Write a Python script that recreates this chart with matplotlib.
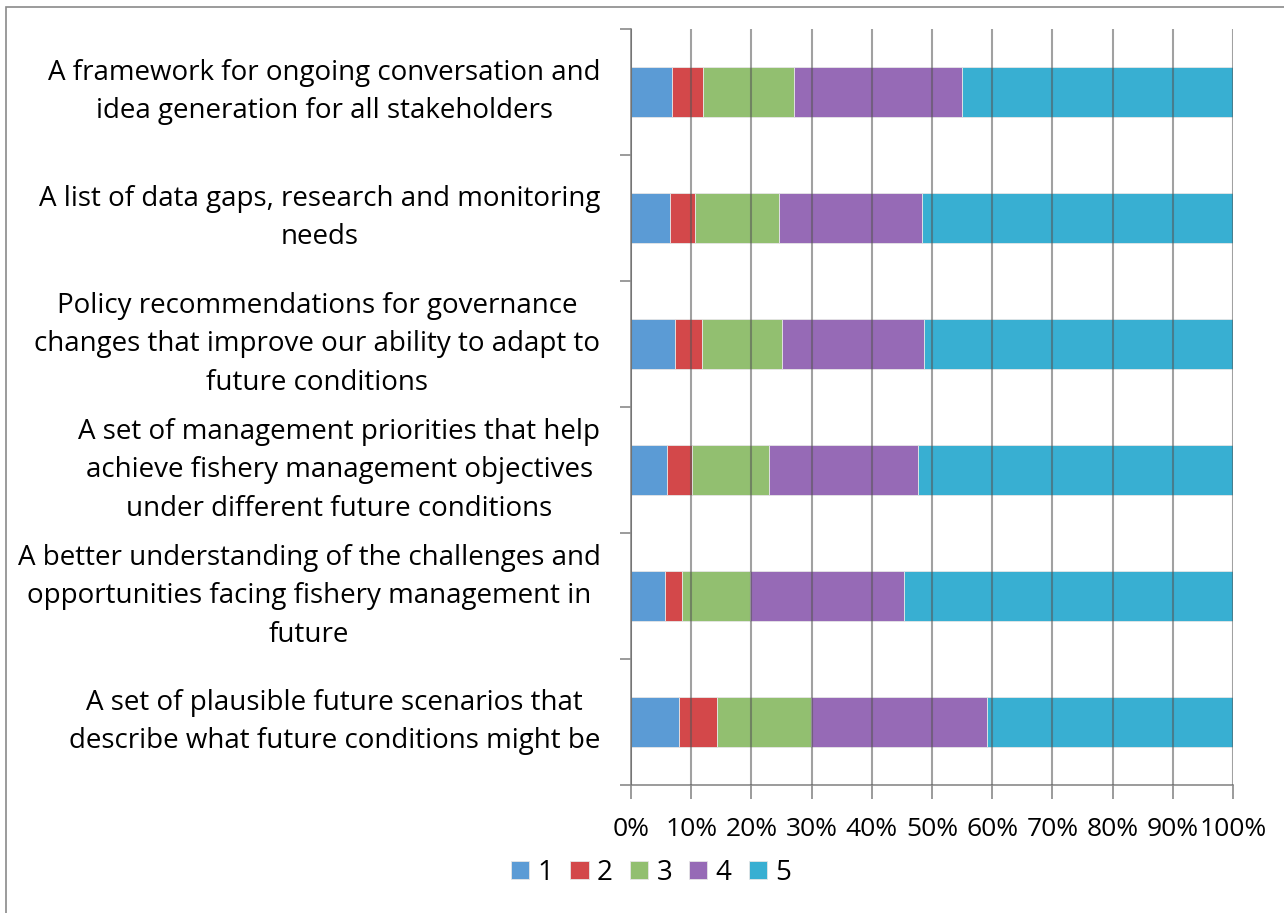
import matplotlib.pyplot as plt
from matplotlib.patches import Rectangle
import numpy as np

plt.rcParams['font.family'] = ['Open Sans', 'DejaVu Sans']

# Categories, top to bottom as shown
categories = [
    "A framework for ongoing conversation and\nidea generation for all stakeholders",
    "A list of data gaps, research and monitoring\nneeds",
    "Policy recommendations for governance\nchanges that improve our ability to adapt to\nfuture conditions",
    "A set of management priorities that help\nachieve fishery management objectives\nunder different future conditions",
    "A better understanding of the challenges and\nopportunities facing fishery management in\nfuture",
    "A set of plausible future scenarios that\ndescribe what future conditions might be",
]

# Share of responses (%) per rating
r1 = [6.8, 6.4, 7.3, 5.9, 5.7, 8.0]
r2 = [5.2, 4.2, 4.5, 4.2, 2.8, 6.3]
r3 = [15.1, 14.0, 13.2, 12.8, 11.3, 15.6]
r4 = [27.9, 23.8, 23.7, 24.8, 25.6, 29.2]
r5 = [45.0, 51.6, 51.3, 52.3, 54.6, 40.9]

series = [r1, r2, r3, r4, r5]
series_names = ["1", "2", "3", "4", "5"]
colors = ["#5B9BD5", "#D3484A", "#92BF70", "#966AB6", "#38AFD2"]
xticks = np.arange(0, 101, 10)

fig = plt.figure(figsize=(12.84, 9.13), dpi=100)
ax = fig.add_axes([631 / 1284, 1 - 785 / 913, 602 / 1284, 756 / 913])

# outer chart border
fig.patches.append(Rectangle((6 / 1284, -0.1), 1.2, 1 - 7 / 913 + 0.1,
                             transform=fig.transFigure, fill=False,
                             edgecolor="#8a8a8a", linewidth=1.2))

y = np.arange(len(categories)) + 0.5
left = np.zeros(len(categories))
for vals, name, c in zip(series, series_names, colors):
    vals = np.array(vals)
    ax.barh(y, vals, left=left, height=0.4, color=c, label=name,
            edgecolor="#e6e6e6", linewidth=0.6, zorder=2)
    left += vals

ax.set_xlim(0, 100)
ax.set_ylim(len(categories), 0)

ax.set_xticks(xticks)
ax.set_xticklabels([f"{v}%" for v in xticks], fontsize=19)
ax.tick_params(axis="x", length=10, color="#8a8a8a", width=1.2, pad=13)
ax.grid(axis="x", color="#555555", alpha=0.55, linewidth=1.5, zorder=3)
ax.set_axisbelow(False)

ax.set_yticks(np.arange(len(categories) + 1))
ax.set_yticklabels([])
ax.set_yticks(y, minor=True)
ax.set_yticklabels(categories, minor=True, fontsize=20, ha="right", va="center",
                   multialignment="center", linespacing=1.5)
ax.tick_params(axis="y", which="major", length=8, color="#8a8a8a", width=1.2)
ax.tick_params(axis="y", which="minor", length=0, pad=22)

for s in ["top", "right"]:
    ax.spines[s].set_visible(False)
for s in ["left", "bottom"]:
    ax.spines[s].set_color("#8a8a8a")
    ax.spines[s].set_linewidth(1.2)

fig.legend(loc="center", bbox_to_anchor=(651 / 1284, 1 - 873 / 913), ncol=5,
           frameon=False, fontsize=20, handlelength=0.65, handleheight=0.6,
           handletextpad=0.3, columnspacing=0.62)

fig.savefig("out.png", dpi=100)
